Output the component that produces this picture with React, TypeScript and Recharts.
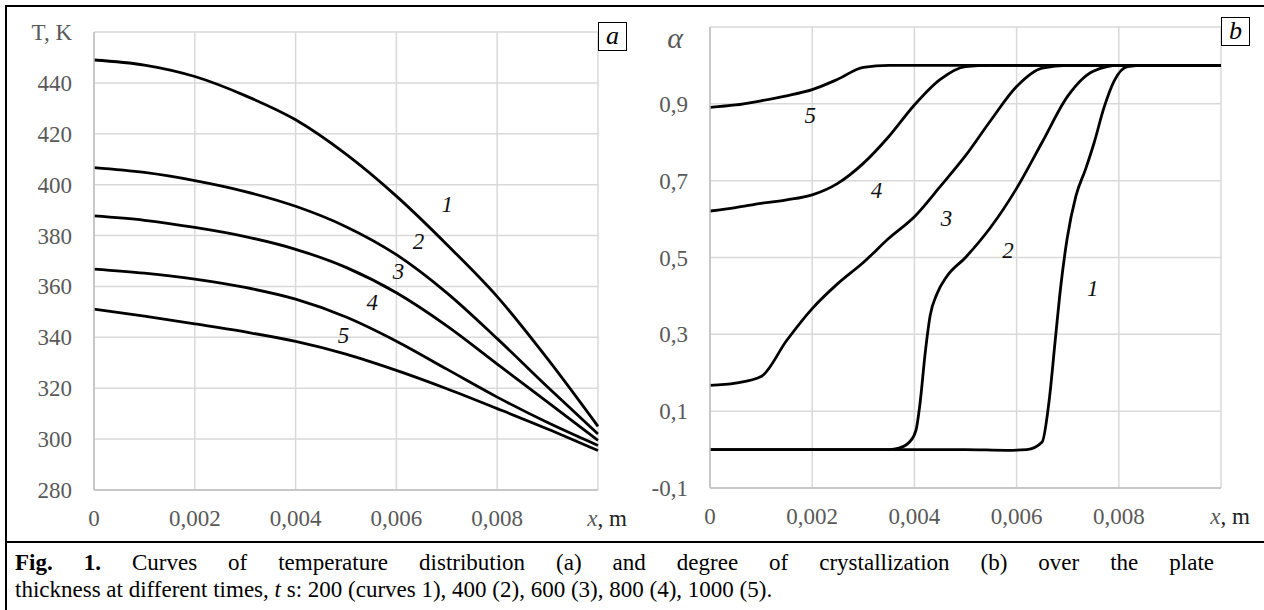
import {
  CartesianGrid,
  Line,
  LineChart,
  ReferenceDot,
  XAxis,
  YAxis,
} from "recharts";

// ---- panel a: temperature T (K) over thickness x (m), curves 1..5 ----
const tempX = [0, 0.001, 0.002, 0.003, 0.004, 0.005, 0.006, 0.007, 0.008, 0.009, 0.01];
const tempCurve1 = [449, 447, 442.5, 435, 425.5, 412, 395.5, 376.5, 356, 331.5, 305];
const tempCurve2 = [406.7, 404.8, 401.6, 397.3, 391.5, 383.5, 372.5, 357.5, 339.5, 320.5, 302];
const tempCurve3 = [387.7, 386, 383.2, 379.6, 374.6, 367.5, 357.5, 344.5, 329.5, 314.5, 299.5];
const tempCurve4 = [366.8, 365.2, 362.9, 359.6, 355, 348, 338.5, 327.5, 316.5, 306.5, 297.5];
const tempCurve5 = [351.1, 348.3, 345.3, 342.1, 338.4, 333.4, 327, 319.8, 312, 304, 295.5];
const tempTicks = [280, 300, 320, 340, 360, 380, 400, 420, 440, 460];
const xTicks = [0, 0.002, 0.004, 0.006, 0.008, 0.01];
const tempLabelText = ["1", "2", "3", "4", "5"];
const tempLabelX = [0.00701, 0.00644, 0.00604, 0.00552, 0.00495];
const tempLabelY = [392.5, 378, 366.2, 353.7, 340.8];

// ---- panel b: degree of crystallization alpha, curves 1..5 ----
const alphaX1 = [0, 0.001, 0.002, 0.003, 0.004, 0.005, 0.0058, 0.0062, 0.0065, 0.00663, 0.00676, 0.00686, 0.00699, 0.00716, 0.00735, 0.00752, 0.00771, 0.00791, 0.00817, 0.0085, 0.009, 0.0095, 0.01];
const alphaCurve1 = [0, 0, 0, 0, 0, 0, -0.002, 0, 0.02, 0.12, 0.29, 0.42, 0.55, 0.66, 0.73, 0.8, 0.89, 0.96, 0.997, 1, 1, 1, 1];
const alphaX2 = [0, 0.001, 0.002, 0.003, 0.0035, 0.0037, 0.0039, 0.00403, 0.00411, 0.00421, 0.00431, 0.00444, 0.00463, 0.005, 0.0055, 0.006, 0.0065, 0.007, 0.0075, 0.008, 0.009, 0.01];
const alphaCurve2 = [0, 0, 0, 0, 0, 0.004, 0.019, 0.05, 0.12, 0.25, 0.35, 0.405, 0.45, 0.5, 0.58, 0.68, 0.8, 0.92, 0.985, 1, 1, 1];
const alphaX3 = [0, 0.0005, 0.001, 0.0015, 0.002, 0.0025, 0.003, 0.0035, 0.004, 0.0045, 0.005, 0.0055, 0.006, 0.0065, 0.007, 0.008, 0.009, 0.01];
const alphaCurve3 = [0.167, 0.173, 0.19, 0.284, 0.367, 0.432, 0.487, 0.55, 0.606, 0.684, 0.765, 0.858, 0.945, 0.993, 1, 1, 1, 1];
const alphaX4 = [0, 0.0005, 0.001, 0.0015, 0.002, 0.0025, 0.003, 0.0035, 0.004, 0.0045, 0.005, 0.0055, 0.006, 0.008, 0.01];
const alphaCurve4 = [0.621, 0.63, 0.641, 0.65, 0.663, 0.693, 0.745, 0.815, 0.897, 0.963, 0.997, 1, 1, 1, 1];
const alphaX5 = [0, 0.0005, 0.001, 0.0015, 0.002, 0.0025, 0.003, 0.0035, 0.004, 0.006, 0.008, 0.01];
const alphaCurve5 = [0.891, 0.897, 0.908, 0.921, 0.937, 0.964, 0.995, 1, 1, 1, 1, 1];
const alphaTicks = [-0.1, 0.1, 0.3, 0.5, 0.7, 0.9, 1.1];
const alphaLabelText = ["1", "2", "3", "4", "5"];
const alphaLabelX = [0.00749, 0.00583, 0.00463, 0.00326, 0.00196];
const alphaLabelY = [0.42, 0.519, 0.603, 0.676, 0.871];

const SERIF = "'Liberation Serif', 'Times New Roman', serif";
const TICK_GRAY = "#595959";
const GRID = "#d9d9d9";

const tempData = tempX.map((x, i) => ({
  x,
  t1: tempCurve1[i],
  t2: tempCurve2[i],
  t3: tempCurve3[i],
  t4: tempCurve4[i],
  t5: tempCurve5[i],
}));

const pairUp = (xs: number[], ys: number[]) => xs.map((x, i) => ({ x, a: ys[i] }));
const alphaSeries = [
  pairUp(alphaX1, alphaCurve1),
  pairUp(alphaX2, alphaCurve2),
  pairUp(alphaX3, alphaCurve3),
  pairUp(alphaX4, alphaCurve4),
  pairUp(alphaX5, alphaCurve5),
];

const comma = (v: number, digits: number) => (v === 0 ? "0" : v.toFixed(digits).replace(".", ","));

function XTick(props: any) {
  const { x, y, payload } = props;
  if (Math.abs(payload.value - 0.01) < 1e-9) {
    return (
      <text x={x + 9} y={y + 36} textAnchor="middle" fontFamily={SERIF} fontSize={23}>
        <tspan fill={TICK_GRAY} fontStyle="italic">x</tspan>
        <tspan fill="#222">, m</tspan>
      </text>
    );
  }
  return (
    <text x={x} y={y + 36} textAnchor="middle" fill={TICK_GRAY} fontFamily={SERIF} fontSize={23}>
      {comma(payload.value, 3)}
    </text>
  );
}

function TempTick(props: any) {
  const { x, y, payload } = props;
  const label = payload.value === 460 ? "T, K" : String(payload.value);
  return (
    <text x={x - 22} y={y + 8} textAnchor="end" fill={TICK_GRAY} fontFamily={SERIF} fontSize={23}>
      {label}
    </text>
  );
}

function AlphaTick(props: any) {
  const { x, y, payload } = props;
  if (Math.abs(payload.value - 1.1) < 1e-9) {
    return (
      <text x={x - 27} y={y + 21} textAnchor="end" fill={TICK_GRAY} fontFamily={SERIF} fontSize={30} fontStyle="italic">
        α
      </text>
    );
  }
  return (
    <text x={x - 22} y={y + 8} textAnchor="end" fill={TICK_GRAY} fontFamily={SERIF} fontSize={23}>
      {comma(payload.value, 1)}
    </text>
  );
}

const curveLabel = (text: string) => (props: any) => (
  <text x={props.cx} y={props.cy + 8} textAnchor="middle" fontFamily={SERIF} fontSize={23} fontStyle="italic" fill="#111">
    {text}
  </text>
);

function PanelTag({ left, top, text }: { left: number; top: number; text: string }) {
  return (
    <div
      style={{
        position: "absolute",
        left,
        top,
        width: 27,
        height: 27,
        border: "1px solid #000",
        background: "#fff",
        fontFamily: SERIF,
        fontStyle: "italic",
        fontSize: 26,
        lineHeight: "25px",
        textAlign: "center",
      }}
    >
      {text}
    </div>
  );
}

export default function App() {
  return (
    <div
      style={{
        position: "absolute",
        left: 0,
        top: 0,
        width: 1264,
        height: 610,
        background: "#fff",
        overflow: "hidden",
        fontFamily: SERIF,
      }}
    >
      {/* frame lines */}
      <div style={{ position: "absolute", left: 5, top: 5, width: 1259, height: 2, background: "#000" }} />
      <div style={{ position: "absolute", left: 5, top: 5, width: 2, height: 605, background: "#000" }} />
      <div style={{ position: "absolute", left: 5, top: 541, width: 1259, height: 2, background: "#000" }} />

      <div style={{ position: "absolute", left: 0, top: 0 }}>
        <LineChart width={630} height={540} data={tempData} margin={{ top: 32, right: 32, left: 34, bottom: 20 }}>
          <CartesianGrid stroke={GRID} strokeWidth={1.5} />
          <XAxis
            dataKey="x"
            type="number"
            domain={[0, 0.01]}
            ticks={xTicks}
            tick={<XTick />}
            tickLine={false}
            tickSize={0}
            tickMargin={0}
            height={30}
            axisLine={{ stroke: "#bfbfbf", strokeWidth: 1.5 }}
            interval={0}
          />
          <YAxis
            type="number"
            domain={[280, 460]}
            ticks={tempTicks}
            tick={<TempTick />}
            tickLine={false}
            tickSize={0}
            tickMargin={0}
            width={60}
            axisLine={{ stroke: "#bfbfbf", strokeWidth: 1.5 }}
            interval={0}
          />
          {["t1", "t2", "t3", "t4", "t5"].map((k) => (
            <Line key={k} dataKey={k} type="monotone" stroke="#000" strokeWidth={2.8} dot={false} isAnimationActive={false} />
          ))}
          {tempLabelText.map((t, i) => (
            <ReferenceDot key={t} x={tempLabelX[i]} y={tempLabelY[i]} r={0} shape={curveLabel(t)} />
          ))}
        </LineChart>
      </div>

      <div style={{ position: "absolute", left: 630, top: 0 }}>
        <LineChart width={634} height={540} margin={{ top: 27, right: 43, left: 20, bottom: 22 }}>
          <CartesianGrid stroke={GRID} strokeWidth={1.5} />
          <XAxis
            dataKey="x"
            type="number"
            domain={[0, 0.01]}
            ticks={xTicks}
            tick={<XTick />}
            tickLine={false}
            tickSize={0}
            tickMargin={0}
            height={30}
            axisLine={{ stroke: "#bfbfbf", strokeWidth: 1.5 }}
            interval={0}
            allowDuplicatedCategory={false}
          />
          <YAxis
            type="number"
            domain={[-0.1, 1.1]}
            ticks={alphaTicks}
            tick={<AlphaTick />}
            tickLine={false}
            tickSize={0}
            tickMargin={0}
            width={60}
            axisLine={{ stroke: "#bfbfbf", strokeWidth: 1.5 }}
            interval={0}
          />
          {alphaSeries.map((d, i) => (
            <Line
              key={i}
              data={d}
              dataKey="a"
              type="monotone"
              stroke="#000"
              strokeWidth={2.8}
              dot={false}
              isAnimationActive={false}
            />
          ))}
          {alphaLabelText.map((t, i) => (
            <ReferenceDot key={t} x={alphaLabelX[i]} y={alphaLabelY[i]} r={0} shape={curveLabel(t)} />
          ))}
        </LineChart>
      </div>

      <PanelTag left={598} top={22} text="a" />
      <PanelTag left={1221} top={17} text="b" />

      <div
        style={{
          position: "absolute",
          left: 15,
          top: 549,
          width: 1199,
          fontSize: 23,
          lineHeight: "27px",
          color: "#000",
        }}
      >
        <div style={{ textAlign: "justify", textAlignLast: "justify" }}>
          <b>Fig. 1.</b> Curves of temperature distribution (a) and degree of crystallization (b) over the plate
        </div>
        <div>
          thickness at different times, <i>t</i> s: 200 (curves 1), 400 (2), 600 (3), 800 (4), 1000 (5).
        </div>
      </div>
    </div>
  );
}
